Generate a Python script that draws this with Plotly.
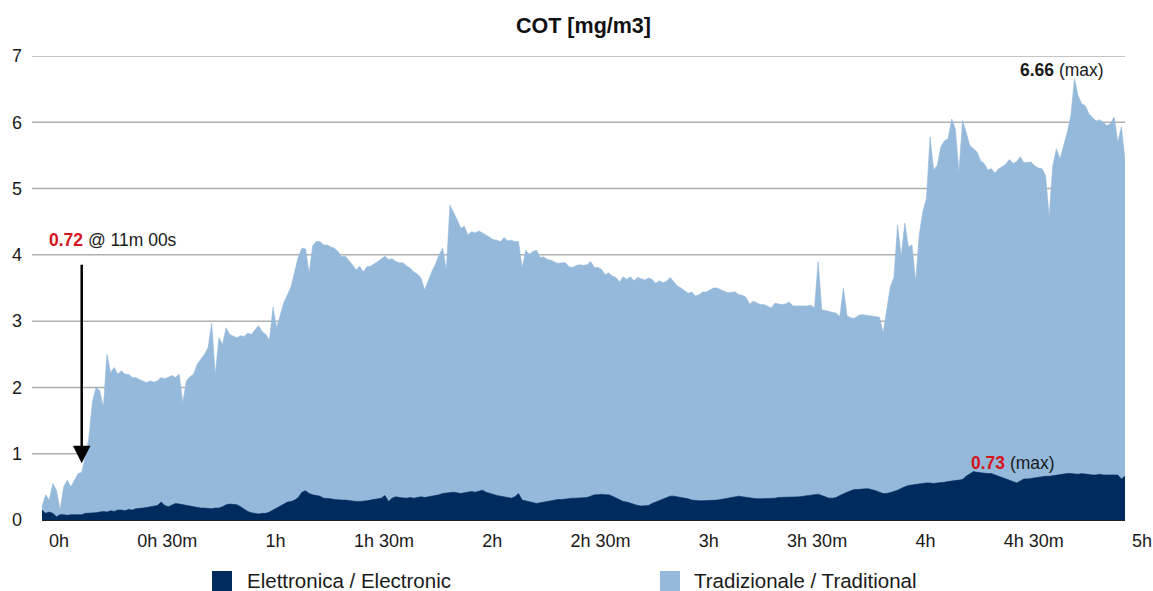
import plotly.graph_objects as go

# ---- data (minutes from start, mg/m3) ----
minutes = list(range(0, 301))

traditional = [
    0.2, 0.38, 0.3, 0.55, 0.45, 0.15, 0.5, 0.6, 0.5, 0.6,
    0.7, 0.72, 0.95, 1.25, 1.8, 2.0, 1.95, 1.7, 2.5, 2.22,
    2.3, 2.2, 2.25, 2.2, 2.2, 2.15, 2.15, 2.12, 2.1, 2.07,
    2.1, 2.08, 2.1, 2.15, 2.13, 2.15, 2.18, 2.15, 2.2, 1.77,
    2.1, 2.16, 2.2, 2.35, 2.42, 2.5, 2.6, 2.97, 2.19, 2.75,
    2.65, 2.9, 2.8, 2.77, 2.75, 2.78, 2.77, 2.82, 2.8, 2.87,
    2.93, 2.84, 2.8, 2.71, 3.21, 2.9, 3.1, 3.28, 3.4, 3.52,
    3.75, 3.97, 4.1, 4.09, 3.72, 4.14, 4.2, 4.2, 4.15, 4.15,
    4.12, 4.1, 4.05, 3.97, 3.98, 3.92, 3.85, 3.77, 3.83, 3.74,
    3.82, 3.83, 3.86, 3.9, 3.94, 3.98, 3.93, 3.94, 3.9, 3.88,
    3.88, 3.83, 3.8, 3.74, 3.71, 3.65, 3.47, 3.62, 3.75, 3.86,
    4.0, 4.1, 3.77, 4.75, 4.65, 4.53, 4.4, 4.43, 4.3, 4.35,
    4.33, 4.36, 4.33, 4.3, 4.26, 4.23, 4.22, 4.2, 4.26, 4.21,
    4.22, 4.2, 4.2, 3.8, 4.07, 4.01, 4.05, 4.07, 3.96, 3.97,
    3.93, 3.92, 3.89, 3.87, 3.88, 3.88, 3.82, 3.81, 3.84, 3.85,
    3.84, 3.85, 3.9, 3.81, 3.81, 3.78, 3.7, 3.73, 3.68, 3.66,
    3.59, 3.67, 3.63, 3.67, 3.61, 3.66, 3.64, 3.62, 3.65, 3.63,
    3.57, 3.61, 3.58, 3.6, 3.66, 3.6, 3.53, 3.5, 3.46, 3.42,
    3.44, 3.38, 3.4, 3.44, 3.44, 3.47, 3.5, 3.5, 3.47, 3.45,
    3.43, 3.43, 3.44, 3.4, 3.39, 3.36, 3.26, 3.3, 3.27, 3.25,
    3.25, 3.22, 3.2, 3.27, 3.26, 3.25, 3.26, 3.29, 3.23, 3.23,
    3.23, 3.22, 3.23, 3.24, 3.2, 3.9, 3.17, 3.16, 3.15, 3.14,
    3.12, 3.07, 3.5, 3.08, 3.05, 3.04, 3.08, 3.1, 3.09, 3.08,
    3.07, 3.06, 3.06, 2.82, 3.2, 3.52, 3.66, 4.45, 3.97, 4.48,
    4.12, 4.15, 3.59, 4.3, 4.65, 4.85, 5.78, 5.28, 5.35, 5.63,
    5.72, 5.75, 6.05, 5.9, 5.25, 6.03, 5.85, 5.65, 5.6, 5.55,
    5.42, 5.38, 5.28, 5.3, 5.23, 5.3, 5.33, 5.37, 5.44, 5.38,
    5.41, 5.48, 5.39, 5.4, 5.4, 5.34, 5.31, 5.3, 5.2, 4.57,
    5.35, 5.6, 5.45, 5.65, 5.85, 6.1, 6.66, 6.4, 6.28, 6.25,
    6.13, 6.07, 6.02, 6.04, 6.0, 5.95, 5.98, 6.08, 5.7, 5.93, 5.43,
]

electronic = [
    0.15, 0.1, 0.12, 0.1, 0.05, 0.08, 0.08, 0.07, 0.08, 0.08,
    0.09, 0.08, 0.1, 0.1, 0.1, 0.11, 0.12, 0.13, 0.12, 0.14,
    0.13, 0.15, 0.15, 0.14, 0.16, 0.15, 0.17, 0.17, 0.18, 0.19,
    0.2, 0.2, 0.22, 0.27, 0.22, 0.2, 0.22, 0.25, 0.24, 0.23,
    0.21, 0.2, 0.19, 0.19, 0.18, 0.18, 0.17, 0.17, 0.18, 0.18,
    0.2, 0.23, 0.24, 0.24, 0.23, 0.2, 0.16, 0.13, 0.11, 0.1,
    0.09, 0.1, 0.1, 0.12, 0.15, 0.19, 0.21, 0.24, 0.27, 0.28,
    0.3, 0.34, 0.42, 0.44, 0.4, 0.38, 0.37, 0.36, 0.33, 0.33,
    0.32, 0.31, 0.3, 0.3, 0.3, 0.29, 0.29, 0.28, 0.28, 0.28,
    0.29, 0.3, 0.31, 0.32, 0.33, 0.37, 0.28, 0.33, 0.35, 0.34,
    0.33, 0.33, 0.34, 0.33, 0.34, 0.35, 0.34, 0.35, 0.35, 0.37,
    0.38, 0.4, 0.41, 0.42, 0.42, 0.41, 0.4, 0.41, 0.42, 0.43,
    0.42, 0.44, 0.45, 0.42, 0.4, 0.38, 0.37, 0.36, 0.35, 0.34,
    0.33, 0.35, 0.4, 0.3, 0.29, 0.28, 0.26, 0.25, 0.26, 0.27,
    0.29, 0.3, 0.3, 0.31, 0.31, 0.32, 0.33, 0.33, 0.33, 0.33,
    0.33, 0.34, 0.36, 0.38, 0.38, 0.39, 0.38, 0.38, 0.36, 0.33,
    0.3, 0.28, 0.27, 0.25, 0.24, 0.22, 0.21, 0.21, 0.22, 0.25,
    0.27, 0.29, 0.31, 0.34, 0.36, 0.36, 0.35, 0.35, 0.34, 0.32,
    0.3, 0.29, 0.29, 0.29, 0.29, 0.29, 0.29, 0.3, 0.31, 0.32,
    0.34, 0.35, 0.36, 0.36, 0.35, 0.34, 0.33, 0.33, 0.32, 0.32,
    0.32, 0.32, 0.33, 0.33, 0.34, 0.34, 0.34, 0.35, 0.35, 0.35,
    0.35, 0.36, 0.37, 0.38, 0.39, 0.39, 0.37, 0.35, 0.33, 0.33,
    0.34, 0.37, 0.4, 0.42, 0.44, 0.46, 0.46, 0.47, 0.47, 0.47,
    0.46, 0.44, 0.42, 0.4, 0.4, 0.41, 0.43, 0.45, 0.48, 0.5,
    0.52, 0.53, 0.54, 0.55, 0.55, 0.56, 0.56, 0.55, 0.56, 0.56,
    0.57, 0.58, 0.59, 0.6, 0.6, 0.61, 0.66, 0.7, 0.73, 0.72,
    0.71, 0.7, 0.7, 0.7, 0.68, 0.66, 0.64, 0.63, 0.6, 0.58,
    0.56, 0.59, 0.62, 0.62, 0.63, 0.64, 0.65, 0.65, 0.66, 0.66,
    0.67, 0.68, 0.68, 0.69, 0.7, 0.7, 0.69, 0.69, 0.7, 0.69,
    0.69, 0.68, 0.68, 0.69, 0.68, 0.68, 0.69, 0.68, 0.68, 0.62, 0.66,
]

x_tickvals = [0, 30, 60, 90, 120, 150, 180, 210, 240, 270, 300]
x_ticktext = ["0h", "0h 30m", "1h", "1h 30m", "2h", "2h 30m",
              "3h", "3h 30m", "4h", "4h 30m", "5h"]
y_tickvals = [0, 1, 2, 3, 4, 5, 6, 7]

series_names = ["Elettronica / Electronic", "Tradizionale / Traditional"]
title_text = "COT [mg/m3]"

# ---- styles ----
LIGHT = "#95b9db"
DARK = "#002b5e"
RED = "#d4151c"
GRID = "#b0b0b0"
FONT = "Liberation Sans, Arial, Helvetica, sans-serif"
TXT = "#1a1a1a"

fig = go.Figure()
fig.add_trace(go.Scatter(
    x=minutes, y=traditional, mode="lines", fill="tozeroy",
    line=dict(color=LIGHT, width=0.6), fillcolor=LIGHT,
    name=series_names[1], showlegend=False, hoverinfo="x+y"))
fig.add_trace(go.Scatter(
    x=minutes, y=electronic, mode="lines", fill="tozeroy",
    line=dict(color=DARK, width=0.6), fillcolor=DARK,
    name=series_names[0], showlegend=False, hoverinfo="x+y"))

W, H = 1153, 591
PLOT_L, PLOT_R, PLOT_T, PLOT_B = 42, 1125, 56, 520   # page pixels
ML, MT = PLOT_L, PLOT_T
MR = W - PLOT_R
MB = H - PLOT_B
pw = PLOT_R - PLOT_L
ph = PLOT_B - PLOT_T

def px_to_paper_x(px):
    return (px - PLOT_L) / pw

def py_to_paper_y(py):
    return (PLOT_B - py) / ph

shapes = []
for v in y_tickvals[1:]:
    shapes.append(dict(type="line", xref="paper", yref="y",
                       x0=px_to_paper_x(32), x1=1, y0=v, y1=v,
                       line=dict(color=GRID, width=1.5), layer="below"))

# legend swatches
for (x0, color) in [(212, DARK), (660, LIGHT)]:
    shapes.append(dict(type="rect", xref="paper", yref="paper",
                       x0=px_to_paper_x(x0), x1=px_to_paper_x(x0 + 20),
                       y0=py_to_paper_y(571), y1=py_to_paper_y(591),
                       line=dict(width=0), fillcolor=color))

annotations = [
    dict(xref="paper", yref="paper", x=px_to_paper_x(245), y=py_to_paper_y(580),
         xanchor="left", yanchor="middle", showarrow=False,
         text=series_names[0], font=dict(family=FONT, size=20.5, color=TXT)),
    dict(xref="paper", yref="paper", x=px_to_paper_x(692), y=py_to_paper_y(580),
         xanchor="left", yanchor="middle", showarrow=False,
         text=series_names[1], font=dict(family=FONT, size=20.5, color=TXT)),
    dict(xref="paper", yref="paper", x=px_to_paper_x(47), y=py_to_paper_y(240),
         xanchor="left", yanchor="middle", showarrow=False,
         text=f"<span style='color:{RED}'><b>{traditional[11]:.2f}</b></span> @ 11m 00s",
         font=dict(family=FONT, size=17.5, color=TXT)),
    dict(x=11, y=traditional[11], xref="x", yref="y", text="",
         showarrow=True, arrowhead=2, arrowsize=1.4, arrowwidth=2.5,
         arrowcolor="#000000", ax=0, ay=-209, axref="pixel", ayref="pixel",
         standoff=9),
    dict(xref="paper", yref="paper", x=px_to_paper_x(1106), y=py_to_paper_y(70),
         xanchor="right", yanchor="middle", showarrow=False,
         text=f"<b>{max(traditional):.2f}</b> (max)",
         font=dict(family=FONT, size=17.5, color=TXT)),
    dict(xref="paper", yref="paper", x=px_to_paper_x(969), y=py_to_paper_y(463),
         xanchor="left", yanchor="middle", showarrow=False,
         text=f"<span style='color:{RED}'><b>{max(electronic):.2f}</b></span> (max)",
         font=dict(family=FONT, size=17.5, color=TXT)),
]

fig.update_layout(
    width=W, height=H,
    margin=dict(l=ML, r=MR, t=MT, b=MB, pad=0, autoexpand=False),
    paper_bgcolor="white", plot_bgcolor="white",
    title=dict(text=f"<b>{title_text}</b>", x=0.5, xref="paper",
               y=1 - 25 / H, yanchor="middle", automargin=False,
               font=dict(family=FONT, size=21.5, color="#111111")),
    xaxis=dict(range=[0, 300], tickvals=x_tickvals, ticktext=x_ticktext,
               showgrid=False, zeroline=False, showline=True,
               linecolor="#222222", linewidth=1.2, ticks="",
               ticklabelshift=17, ticklabelstandoff=4, automargin=False,
               tickfont=dict(family=FONT, size=18, color=TXT)),
    yaxis=dict(range=[0, 7], tickvals=y_tickvals, showgrid=False,
               zeroline=False, showline=False, ticks="",
               ticklabelstandoff=19, automargin=False,
               tickfont=dict(family=FONT, size=18, color=TXT)),
    shapes=shapes, annotations=annotations, showlegend=False,
)

fig.write_html(
    "out.html",
    config={"displayModeBar": False},
    post_script="document.body.style.margin='0';document.body.style.overflow='hidden';",
)
